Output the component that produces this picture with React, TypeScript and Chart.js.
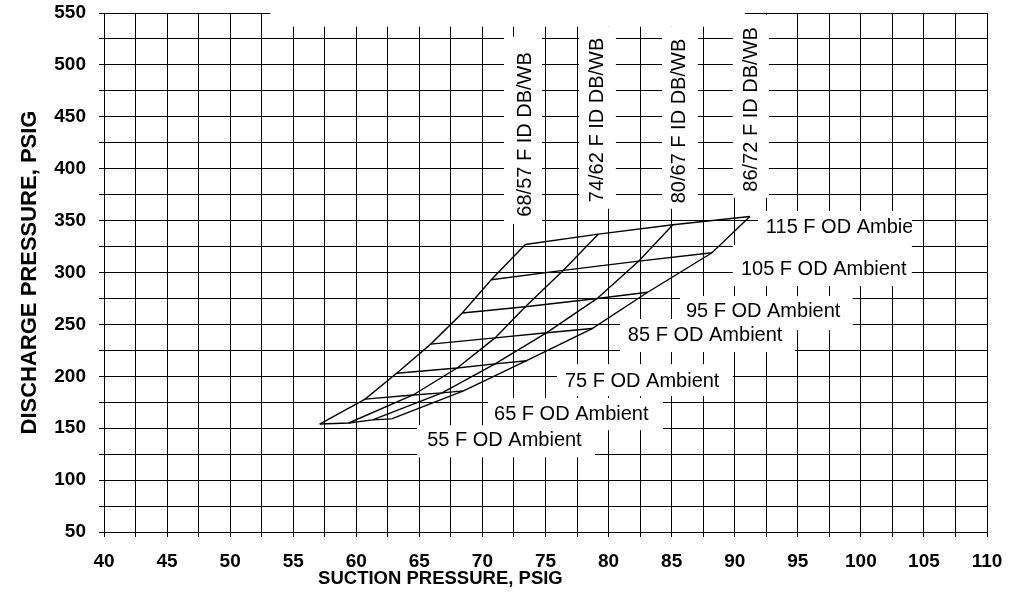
import { useEffect, useRef } from 'react';
import { Chart, registerables } from 'chart.js';

Chart.register(...registerables);

// ---------- DATA ----------
const odTemps = [55, 65, 75, 85, 95, 105, 115];
const idNames = ['68/57', '74/62', '80/67', '86/72'];

// suction (x) / discharge (y) per indoor condition, one value per OD temp
const suction6857 = [57.1, 60.7, 63.2, 65.9, 68.4, 70.7, 73.4];
const discharge6857 = [154, 178, 203, 231, 261, 293, 327];
const suction7462 = [59.4, 64.5, 68.0, 71.0, 73.4, 76.4, 79.2];
const discharge7462 = [155, 182, 208, 237, 267, 302, 337];
const suction8067 = [61.3, 66.8, 71.0, 75.1, 79.1, 82.4, 85.1];
const discharge8067 = [158, 184, 212, 242, 275, 311, 346];
const suction8672 = [62.8, 68.5, 73.5, 78.7, 83.1, 88.2, 91.2];
const discharge8672 = [159, 186, 215, 246, 281, 319, 354];

const xTicksMajor = [40, 45, 50, 55, 60, 65, 70, 75, 80, 85, 90, 95, 100, 105, 110];
const yTicksMajor = [50, 100, 150, 200, 250, 300, 350, 400, 450, 500, 550];

const xTitle = 'SUCTION PRESSURE, PSIG';
const yTitle = 'DISCHARGE PRESSURE, PSIG';

const idLabelText = idNames.map((n) => `${n} F ID DB/WB`);
const odLabelText = odTemps.map((t) => `${t} F OD Ambient`);

// ---------- LABEL PLACEMENT (data units) ----------
// vertical labels: baseline x, start y, box [x0, x1, yLow, yHigh]
const idLabelPlace = [
  { x: 73.89, y: 353.8, box: [71.71, 74.72, 346.8, 527.2] },
  { x: 79.58, y: 367.7, box: [77.65, 80.58, 361.4, 537] },
  { x: 86.06, y: 366.7, box: [84.23, 87.08, 361.4, 537] },
  { x: 91.73, y: 377.9, box: [89.85, 92.71, 372.0, 548.4] },
];
// horizontal labels: text left x, baseline y, box
const odLabelPlace = [
  { x: 65.62, y: 132.7, box: [64.82, 78.92, 122.0, 152.9] },
  { x: 70.92, y: 157.7, box: [70.44, 84.31, 148.1, 179.0] },
  { x: 76.54, y: 189.9, box: [75.91, 89.85, 180.9, 211.7] },
  { x: 81.53, y: 234.2, box: [80.9, 94.77, 223.3, 255.2] },
  { x: 86.13, y: 257.4, box: [85.66, 99.36, 244.5, 277.3] },
  { x: 90.49, y: 297.6, box: [89.85, 104.04, 287.0, 326.5] },
  { x: 92.47, y: 337.8, box: [91.84, 104.04, 326.5, 359.3] },
];
const topBlank = [53.18, 90.8, 536.8, 580];

const FONT = '"Liberation Sans", Arial, Helvetica, sans-serif';

const series = [
  [suction6857, discharge6857],
  [suction7462, discharge7462],
  [suction8067, discharge8067],
  [suction8672, discharge8672],
];

function buildDatasets() {
  const ds: any[] = [];
  series.forEach(([xs, ys], i) => {
    ds.push({
      label: idLabelText[i],
      data: xs.map((x, j) => ({ x, y: ys[j] })),
    });
  });
  odTemps.forEach((t, j) => {
    ds.push({
      label: odLabelText[j],
      data: series.map(([xs, ys]) => ({ x: xs[j], y: ys[j] })),
    });
  });
  return ds.map((d) => ({
    ...d,
    borderColor: '#000',
    borderWidth: 1.4,
    pointRadius: 0,
    tension: 0,
    fill: false,
  }));
}

const annotPlugin = {
  id: 'annot',
  beforeDatasetsDraw(chart: any) {
    const ctx = chart.ctx;
    const sx = chart.scales.x;
    const sy = chart.scales.y;
    const rect = (b: number[]) => {
      const x0 = sx.getPixelForValue(b[0]);
      const x1 = sx.getPixelForValue(b[1]);
      const yTop = sy.getPixelForValue(b[3]);
      const yBot = sy.getPixelForValue(b[2]);
      return [x0, yTop, x1 - x0, yBot - yTop];
    };
    ctx.save();
    ctx.fillStyle = '#fff';
    const tb = rect(topBlank);
    ctx.fillRect(tb[0], tb[1], tb[2], tb[3]);
    idLabelPlace.forEach((p) => {
      const r = rect(p.box);
      ctx.fillRect(r[0], r[1], r[2], r[3]);
    });
    odLabelPlace.forEach((p) => {
      const r = rect(p.box);
      ctx.fillRect(r[0], r[1], r[2], r[3]);
    });
    ctx.fillStyle = '#000';
    ctx.font = `20px ${FONT}`;
    ctx.textBaseline = 'alphabetic';
    ctx.textAlign = 'left';
    idLabelPlace.forEach((p, i) => {
      ctx.save();
      ctx.translate(sx.getPixelForValue(p.x), sy.getPixelForValue(p.y));
      ctx.rotate(-Math.PI / 2);
      ctx.fillText(idLabelText[i], 0, 0);
      ctx.restore();
    });
    odLabelPlace.forEach((p, i) => {
      const r = rect(p.box);
      ctx.save();
      ctx.beginPath();
      ctx.rect(r[0], r[1], r[2], r[3]);
      ctx.clip();
      ctx.fillText(odLabelText[i], sx.getPixelForValue(p.x), sy.getPixelForValue(p.y));
      ctx.restore();
    });
    ctx.restore();
  },
  afterDraw(chart: any) {
    const ctx = chart.ctx;
    const a = chart.chartArea;
    ctx.save();
    ctx.fillStyle = '#000';
    ctx.textAlign = 'center';
    ctx.textBaseline = 'middle';
    ctx.font = `bold 18.5px ${FONT}`;
    ctx.fillText(xTitle, a.left + 0.381 * (a.right - a.left), a.bottom + 47);
    ctx.font = `bold 22px ${FONT}`;
    ctx.translate(a.left - 74, (a.top + a.bottom) / 2);
    ctx.rotate(-Math.PI / 2);
    ctx.fillText(yTitle, 0, 0);
    ctx.restore();
  },
};

export default function App() {
  const ref = useRef<HTMLCanvasElement>(null);
  useEffect(() => {
    if (!ref.current) return;
    const chart = new Chart(ref.current, {
      type: 'line',
      data: { datasets: buildDatasets() },
      options: {
        animation: false,
        responsive: false,
        devicePixelRatio: 1,
        parsing: false as any,
        layout: { padding: { top: 13, right: 29, left: 0, bottom: 0 } },
        plugins: { legend: { display: false }, tooltip: { enabled: false } },
        scales: {
          x: {
            type: 'linear',
            min: 40,
            max: 110,
            afterFit: (s: any) => {
              s.height = 75;
              s.paddingLeft = 0;
              s.paddingRight = 0;
            },
            ticks: {
              stepSize: 2.5,
              autoSkip: false,
              maxRotation: 0,
              padding: 13,
              color: '#000',
              font: { family: FONT, size: 19, weight: 'bold' },
              callback: (v: any) => (xTicksMajor.includes(Number(v)) ? String(v) : ''),
            },
            grid: { color: '#000', lineWidth: 1, tickLength: 5, drawTicks: true },
            border: { color: '#000', width: 1 },
          },
          y: {
            type: 'linear',
            min: 50,
            max: 550,
            afterFit: (s: any) => {
              s.width = 104;
              s.paddingTop = 0;
              s.paddingBottom = 0;
            },
            ticks: {
              stepSize: 25,
              autoSkip: false,
              padding: 13,
              color: '#000',
              font: { family: FONT, size: 19, weight: 'bold' },
              callback: (v: any) => (yTicksMajor.includes(Number(v)) ? String(v) : ''),
            },
            grid: { color: '#000', lineWidth: 1, tickLength: 5, drawTicks: true },
            border: { color: '#000', width: 1 },
          },
        },
      },
      plugins: [annotPlugin],
    });
    return () => chart.destroy();
  }, []);
  return (
    <div style={{ position: 'fixed', left: 0, top: 0, width: 1016, height: 607, background: '#fff' }}>
      <canvas ref={ref} width={1016} height={607} />
    </div>
  );
}
